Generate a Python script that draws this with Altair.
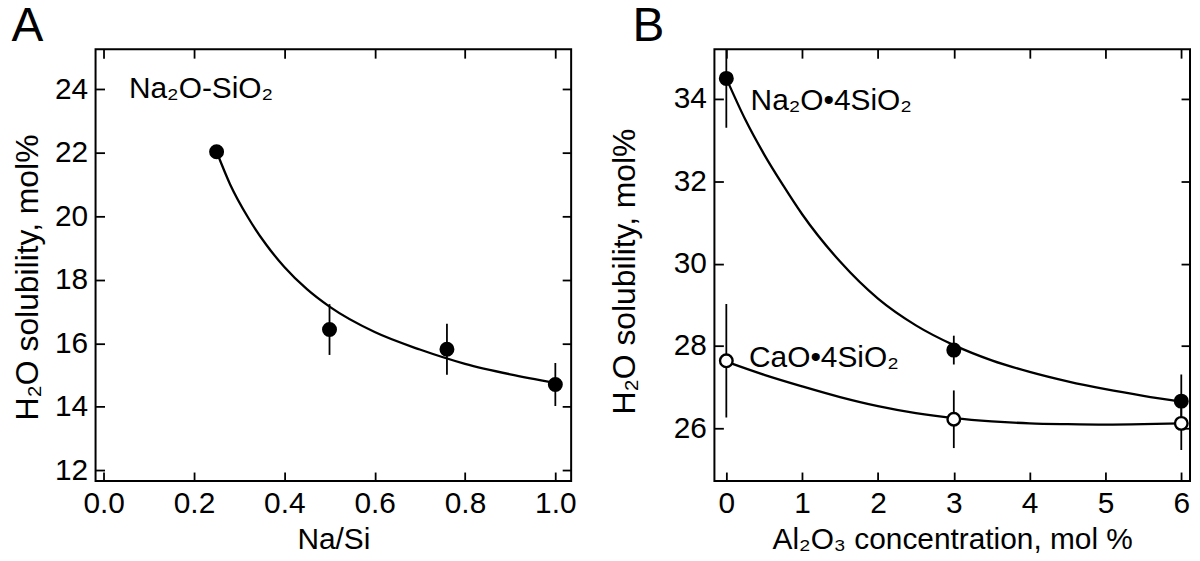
import altair as alt
import pandas as pd

FONT = "Liberation Sans"
FS = 30

# ---------------- Panel A : Na2O-SiO2 ----------------
a_x = [0.25, 0.50, 0.76, 1.00]
a_y = [22.03, 16.43, 15.81, 14.70]
a_err = [0.0, 0.80, 0.80, 0.68]
a_fit_x = [0.25, 0.28, 0.32, 0.36, 0.40, 0.45, 0.50, 0.60, 0.70, 0.80, 0.90, 1.00]
a_fit_y = [22.03, 21.0, 19.95, 19.1, 18.4, 17.7, 17.15, 16.35, 15.8, 15.35, 15.02, 14.75]
a_xticks = [0.0, 0.2, 0.4, 0.6, 0.8, 1.0]
a_yticks = [12, 14, 16, 18, 20, 22, 24]
a_label = ["Na₂O-SiO₂"]
a_label_x = [0.056]
a_label_y = [24.0]

# ---------------- Panel B : Al2O3 series ----------------
b_x = [0, 3, 6]
b_na_y = [34.5, 27.9, 26.66]
b_na_err = [1.2, 0.35, 0.65]
b_ca_y = [27.64, 26.22, 26.12]
b_ca_err = [1.38, 0.70, 0.65]
b_na_fit_x = [0, 0.25, 0.5, 0.75, 1.0, 1.5, 2.0, 2.5, 3.0, 3.5, 4.0, 4.5, 5.0, 5.5, 6.0]
b_na_fit_y = [34.5, 33.5, 32.65, 31.9, 31.2, 30.05, 29.15, 28.5, 28.02, 27.65, 27.37, 27.14, 26.95, 26.79, 26.65]
b_ca_fit_x = [0, 0.5, 1.0, 1.5, 2.0, 2.5, 3.0, 3.5, 4.0, 4.5, 5.0, 5.5, 6.0]
b_ca_fit_y = [27.62, 27.3, 27.02, 26.76, 26.54, 26.37, 26.25, 26.17, 26.12, 26.1, 26.09, 26.1, 26.12]
b_xticks = [0, 1, 2, 3, 4, 5, 6]
b_yticks = [26, 28, 30, 32, 34]
b_labels = ["Na₂O•4SiO₂", "CaO•4SiO₂"]
b_label_x = [0.32, 0.30]
b_label_y = [33.95, 27.7]

W, H = 478, 434
TICK = {"expr": "-9"}


def main_axis(orient, values, fmt, title, lpad, tpad, tfs=FS, title_y=None):
    kw = {}
    if title_y is not None:
        kw["titleY"] = title_y
    return alt.Axis(orient=orient, values=values, format=fmt, title=title,
                    domain=False, grid=False, tickSize=TICK, tickWidth=1.8,
                    tickColor="black", labelFont=FONT, labelFontSize=FS,
                    labelColor="black", labelPadding=lpad, labelFlush=False,
                    labelOverlap=False,
                    titleFont=FONT, titleFontSize=tfs, titleFontWeight="normal",
                    titleColor="black", titlePadding=tpad, **kw)


def mirror_axis(orient, values):
    return alt.Axis(orient=orient, values=values, labels=False, title=None,
                    domain=False, grid=False, tickSize=TICK, tickWidth=1.8,
                    tickColor="black")


def panel(pts, fits, texts, xdom, ydom, xticks, yticks, xfmt, xtitle, ytpad, ytitle_y,
          letter, letter_dx):
    xs = alt.Scale(domain=xdom, nice=False, zero=False)
    ys = alt.Scale(domain=ydom, nice=False, zero=False)
    fit_layers = []
    for i, f in enumerate(fits):
        ax = main_axis("bottom", xticks, xfmt, xtitle, 17, 6) if i == 0 else None
        ay = (main_axis("left", yticks, "d", "H₂O solubility, mol%", 17, ytpad, 32, ytitle_y)
              if i == 0 else None)
        fit_layers.append(
            alt.Chart(f).mark_line(color="black", strokeWidth=2.3, interpolate="monotone",
                                   clip=True)
            .encode(x=alt.X("x:Q", scale=xs, axis=ax), y=alt.Y("y:Q", scale=ys, axis=ay))
        )
    err = (alt.Chart(pts).mark_rule(color="black", strokeWidth=1.8, clip=True)
           .encode(x=alt.X("x:Q", scale=xs, axis=mirror_axis("top", xticks)),
                   y=alt.Y("lo:Q", scale=ys, axis=mirror_axis("right", yticks)),
                   y2="hi:Q"))
    dots = (alt.Chart(pts).mark_point(size=160, opacity=1, strokeWidth=2.4, clip=True)
            .encode(x=alt.X("x:Q", scale=xs, axis=None),
                    y=alt.Y("y:Q", scale=ys, axis=None),
                    fill=alt.Fill("fill:N", scale=None),
                    stroke=alt.value("black")))
    txt = (alt.Chart(texts).mark_text(align="left", baseline="middle", font=FONT,
                                      fontSize=FS, color="black")
           .encode(x=alt.X("x:Q", scale=xs, axis=None),
                   y=alt.Y("y:Q", scale=ys, axis=None), text="t:N"))
    return (alt.layer(*fit_layers, err, dots, txt)
            .resolve_axis(x="independent", y="independent")
            .properties(width=W, height=H,
                        title=alt.TitleParams(letter, anchor="start", frame="bounds",
                                              font=FONT, fontSize=48, fontWeight="normal",
                                              color="black", offset=-3, dx=letter_dx)))


# ---- build tables ----
a_pts = pd.DataFrame({"x": a_x, "y": a_y,
                      "lo": [v - e for v, e in zip(a_y, a_err)],
                      "hi": [v + e for v, e in zip(a_y, a_err)],
                      "fill": ["black"] * len(a_x)})
a_fit = pd.DataFrame({"x": a_fit_x, "y": a_fit_y})
a_txt = pd.DataFrame({"x": a_label_x, "y": a_label_y, "t": a_label})

b_pts = pd.DataFrame({"x": b_x + b_x, "y": b_na_y + b_ca_y,
                      "lo": [v - e for v, e in zip(b_na_y + b_ca_y, b_na_err + b_ca_err)],
                      "hi": [v + e for v, e in zip(b_na_y + b_ca_y, b_na_err + b_ca_err)],
                      "fill": ["black"] * 3 + ["white"] * 3})
b_na_fit = pd.DataFrame({"x": b_na_fit_x, "y": b_na_fit_y})
b_ca_fit = pd.DataFrame({"x": b_ca_fit_x, "y": b_ca_fit_y})
b_txt = pd.DataFrame({"x": b_label_x, "y": b_label_y, "t": b_labels})

A = panel(a_pts, [a_fit], a_txt, [-0.018, 1.035], [11.66, 25.26], a_xticks, a_yticks,
          ".1f", "Na/Si", 10, H / 2 + 12, "A", 0)
B = panel(b_pts, [b_na_fit, b_ca_fit], b_txt, [-0.157, 6.115], [24.72, 35.21], b_xticks,
          b_yticks, "d", "Al₂O₃ concentration, mol %", 32, H / 2 + 6, "B", 24)

chart = (alt.hconcat(A, B, spacing=144, bounds="flush")
         .properties(padding={"left": 2, "right": 0, "top": -7, "bottom": 0})
         .configure(background="white")
         .configure_view(stroke="black", strokeWidth=2))

chart.save("out.html", embed_options={"renderer": "svg", "actions": False})
